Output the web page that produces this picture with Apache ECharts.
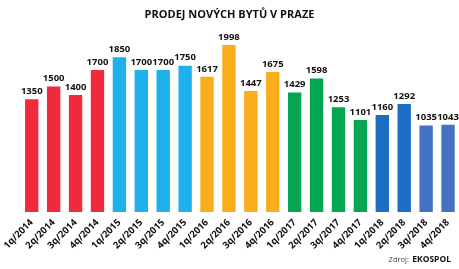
<!DOCTYPE html>
<html><head><meta charset="utf-8">
<script src="https://cdn.jsdelivr.net/npm/echarts@6/dist/echarts.min.js"></script>
<style>html,body{margin:0;padding:0;background:#fff}#c{width:459px;height:269px}</style>
</head><body><div id="c"></div>
<script>
const categories = ['1q/2014','2q/2014','3q/2014','4q/2014','1q/2015','2q/2015','3q/2015','4q/2015','1q/2016','2q/2016','3q/2016','4q/2016','1q/2017','2q/2017','3q/2017','4q/2017','1q/2018','2q/2018','3q/2018','4q/2018'];
const sales = [1350,1500,1400,1700,1850,1700,1700,1750,1617,1998,1447,1675,1429,1598,1253,1101,1160,1292,1035,1043];
const barColors = ['#EE2A3C','#EE2A3C','#EE2A3C','#EE2A3C','#1EB1EC','#1EB1EC','#1EB1EC','#1EB1EC','#F9AD1B','#F9AD1B','#F9AD1B','#F9AD1B','#05A651','#05A651','#05A651','#05A651','#1B6EC2','#1B6EC2','#4471C4','#4471C4'];
const title = 'PRODEJ NOVÝCH BYTŮ V PRAZE';

const chart = echarts.init(document.getElementById('c'), null, {renderer:'canvas'});
const font = 'Open Sans';
chart.setOption({
  animation:false,
  backgroundColor:'#fff',
  title:{text:title,left:'center',top:4,textStyle:{fontFamily:font,fontWeight:'bold',fontSize:11,color:'#111'}},
  graphic:[{type:'text',right:8,bottom:3,style:{rich:{a:{fontFamily:font,fontSize:7.5,fill:'#444'},b:{fontFamily:font,fontSize:8.5,fontWeight:'bold',fill:'#111'}},text:'{a|Zdroj:} {b|EKOSPOL}'}}],
  grid:{left:16,right:-1,top:44.8,bottom:57},
  xAxis:{type:'category',data:categories,axisLine:{show:false},axisTick:{show:false},
    axisLabel:{interval:0,rotate:45,margin:9,fontFamily:font,fontWeight:'bold',fontSize:9.5,color:'#111'}},
  yAxis:{type:'value',min:0,max:2000,show:false,splitLine:{show:false}},
  series:[{type:'bar',barWidth:'61%',
    data:sales.map((v,i)=>({value:v,itemStyle:{color:barColors[i]}})),
    label:{show:true,position:'top',distance:3,fontFamily:font,fontWeight:'bold',fontSize:9.5,color:'#111'}}]
});
</script></body></html>
